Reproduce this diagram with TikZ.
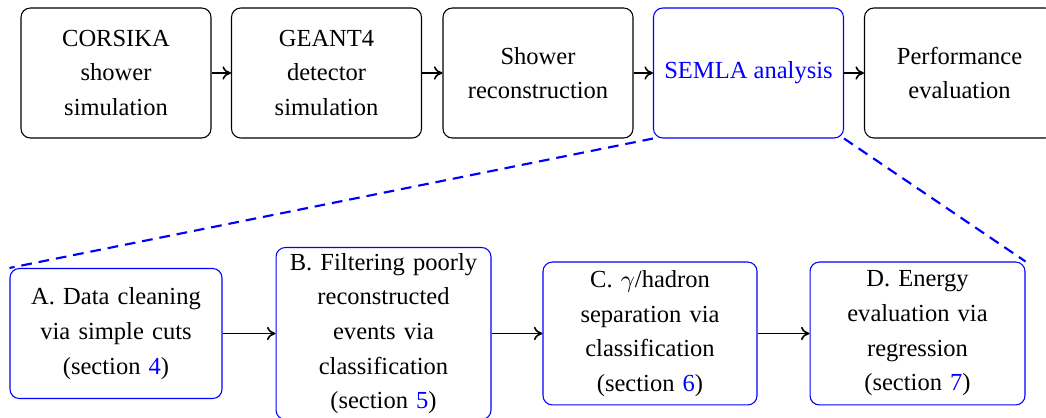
\documentclass[tikz,border=0pt]{standalone}
\usepackage{fontspec}
\setmainfont{Liberation Serif}
\usetikzlibrary{arrows.meta}
\begin{document}
\begin{tikzpicture}[x=0.375pt,y=-0.375pt,
  box/.style={draw=black, rounded corners=3.5pt, align=center, inner sep=1.5pt,
    font=\fontsize{9.2pt}{13pt}\selectfont, minimum width=71.25pt, minimum height=48.75pt},
  bbox/.style={draw=blue, rounded corners=3.5pt, align=center, inner sep=1.5pt,
    text width=74pt, font=\fontsize{9.2pt}{13pt}\selectfont},
  arr/.style={semithick, -{To[length=3.2pt,width=5pt]}},
  zoomline/.style={blue, thick, dash pattern=on 4pt off 2.6pt}]
\useasboundingbox (0,0) rectangle (1046,418);
\node[box] (t1) at (116,73) {CORSIKA\\shower\\simulation};
\node[box] (t2) at (326.5,73) {GEANT4\\detector\\simulation};
\node[box] (t3) at (538,73) {Shower\\reconstruction};
\node[box, draw=blue, text=blue] (t4) at (748.5,73) {SEMLA analysis};
\node[box] (t5) at (959.5,73) {Performance\\evaluation};
\draw[arr] (t1) -- (t2);
\draw[arr] (t2) -- (t3);
\draw[arr] (t3) -- (t4);
\draw[arr] (t4) -- (t5);
\node[bbox, minimum width=79.5pt, minimum height=48.75pt] (a) at (116,333.5)
  {A. Data cleaning\\via simple cuts\\(section \textcolor{blue}{4})};
\node[bbox, minimum width=80.6pt, minimum height=64.5pt] (b) at (383.5,333.5)
  {B. Filtering poorly\\reconstructed\\events via\\classification\\(section \textcolor{blue}{5})};
\node[bbox, minimum width=80.25pt, minimum height=53.6pt] (c) at (650,333.5)
  {C. $\gamma$/hadron\\separation via\\classification\\(section \textcolor{blue}{6})};
\node[bbox, minimum width=80.6pt, minimum height=53.6pt] (d) at (917.5,333.5)
  {D. Energy\\evaluation via\\regression\\(section \textcolor{blue}{7})};
\draw[arr] (a) -- (b);
\draw[arr] (b) -- (c);
\draw[arr] (c) -- (d);
\draw[zoomline] (t4.south west) -- (a.north west);
\draw[zoomline] (t4.south east) -- (d.north east);
\end{tikzpicture}
\end{document}
